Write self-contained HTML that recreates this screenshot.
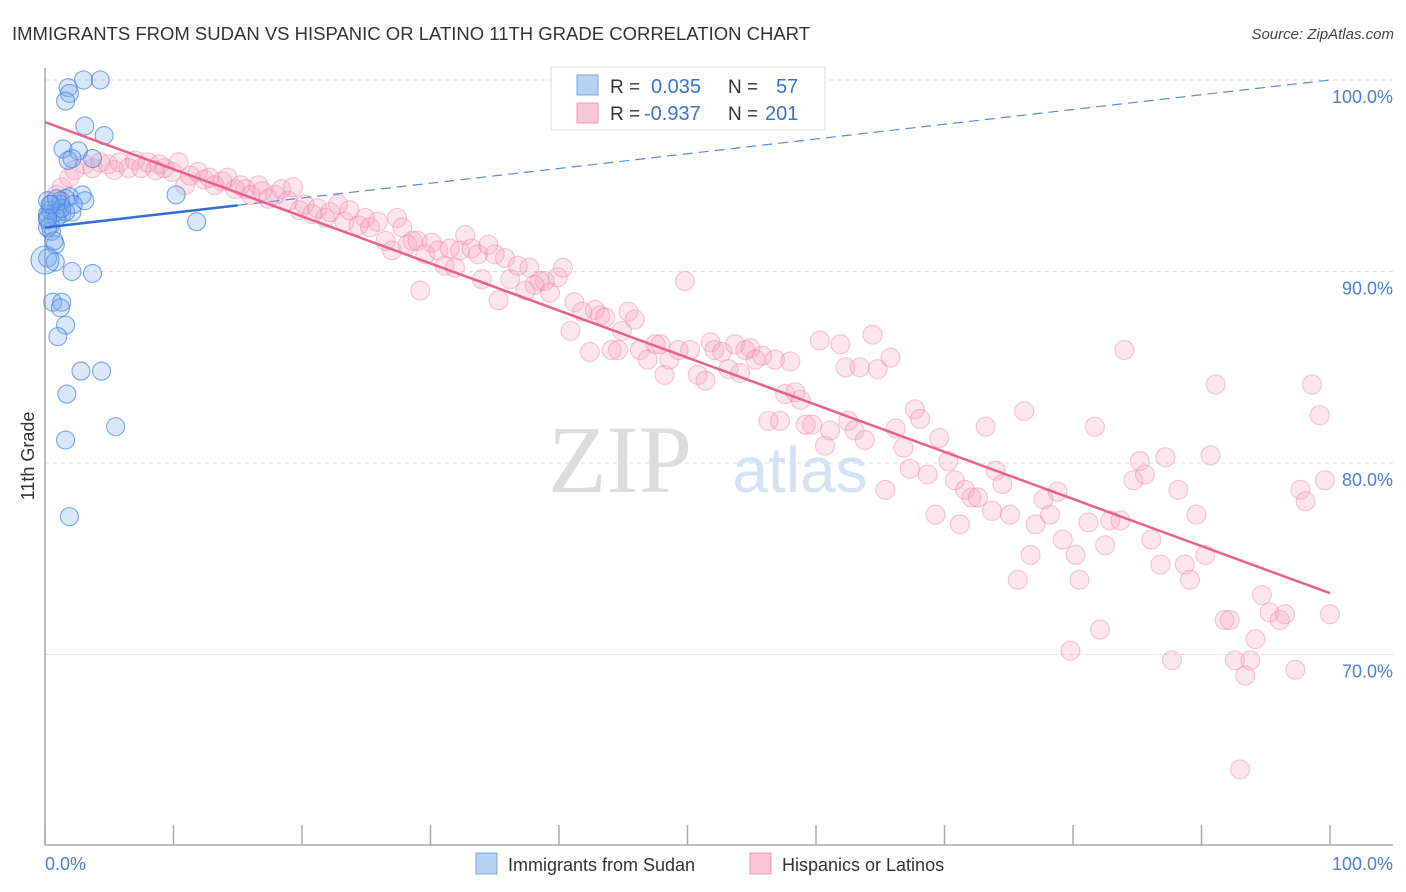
<!DOCTYPE html>
<html><head><meta charset="utf-8"><style>
body{margin:0;background:#fff;font-family:"Liberation Sans",sans-serif;}
svg{display:block}
</style></head><body>
<svg id="chart" width="1406" height="892" xmlns="http://www.w3.org/2000/svg">
<text x="12" y="40" font-size="18" fill="#333" textLength="798" lengthAdjust="spacingAndGlyphs">IMMIGRANTS FROM SUDAN VS HISPANIC OR LATINO 11TH GRADE CORRELATION CHART</text>
<text x="1394" y="39" font-size="15" fill="#444" font-style="italic" text-anchor="end">Source: ZipAtlas.com</text>
<text x="620" y="492" font-size="96" fill="#dcdcdc" font-family="Liberation Serif,serif" text-anchor="middle">ZIP</text>
<text x="800" y="492" font-size="64" fill="#d4e2f5" text-anchor="middle">atlas</text>
<g id="grid"></g>
<g id="axes"></g>
<g id="pts"></g>
<g id="lines"></g>
<text transform="translate(34,456) rotate(-90)" font-size="18" fill="#333" text-anchor="middle">11th Grade</text>
<text x="45" y="870" font-size="18" fill="#4a7fd4">0.0%</text>
<text x="1393" y="870" font-size="18" fill="#4a7fd4" text-anchor="end">100.0%</text>
<g>
<rect x="551" y="67" width="274" height="63" fill="#fff" stroke="#ddd"/>
<rect x="577" y="75" width="21" height="20" fill="#b8d1f3" stroke="#7aa6e6"/>
<rect x="577" y="103" width="21" height="20" fill="#f8c6d5" stroke="#ee9ab4"/>
<text x="610" y="93" font-size="19" fill="#333">R = </text><text x="651" y="93" font-size="20" fill="#3a72d0">0.035</text>
<text x="728" y="93" font-size="19" fill="#333">N = </text><text x="776" y="93" font-size="20" fill="#3a72d0">57</text>
<text x="610" y="120" font-size="19" fill="#333">R = </text><text x="644" y="120" font-size="20" fill="#3a72d0">-0.937</text>
<text x="728" y="120" font-size="19" fill="#333">N = </text><text x="765" y="120" font-size="20" fill="#3a72d0">201</text>
</g>
<g>
<rect x="476" y="853" width="21" height="21" fill="#b8d1f3" stroke="#7aa6e6"/>
<text x="508" y="871" font-size="18" fill="#333">Immigrants from Sudan</text>
<rect x="750" y="853" width="21" height="21" fill="#f8c6d5" stroke="#ee9ab4"/>
<text x="782" y="871" font-size="18" fill="#333">Hispanics or Latinos</text>
</g>
</svg>
<script>
const yTicks=[100,90,80,70];
const yTickLabels=["100.0%","90.0%","80.0%","70.0%"];
const xTicks=[0,10,20,30,40,50,60,70,80,90,100];
const blueX=[1.8,3.0,4.3,1.9,1.6,3.1,4.6,1.4,2.6,1.8,2.1,3.7,2.9,1.9,3.1,1.6,1.2,0.4,0.8,0.2,1.0,1.3,2.1,0.4,0.5,0.8,0.2,0.8,2.1,3.7,0.6,1.3,1.2,1.6,1.0,2.8,4.4,1.7,1.6,5.5,1.9,10.2,11.8,0,0.2,0.5,1.2,0.2,1.6,0.9,0.2,0.7,1.3,0.9,2.2,0.4,0.2];
const blueY=[99.6,100,100,99.3,98.9,97.6,97.1,96.4,96.3,95.8,95.9,95.9,94.0,93.9,93.7,93.8,93.5,93.2,93.1,93.0,93.1,93.0,93.1,92.4,92.1,91.4,90.7,90.5,90.0,89.9,88.4,88.4,88.1,87.2,86.6,84.8,84.8,83.6,81.2,81.9,77.2,94.0,92.6,90.6,92.7,93.5,93.7,93.7,93.1,92.8,92.3,91.6,93.3,93.8,93.5,93.5,92.8];
const pinkX=[0.9,1.3,1.9,2.3,3.1,3.7,4.3,4.9,5.4,5.8,6.5,7.0,7.5,8.0,8.6,8.9,9.3,9.9,10.4,10.9,11.3,11.9,12.4,12.8,13.2,13.8,14.2,14.8,15.2,15.6,16.0,16.6,16.9,17.4,17.9,18.4,18.9,19.3,19.8,20.2,20.8,21.2,21.8,22.2,22.8,23.3,23.7,24.4,24.9,25.3,25.9,26.5,27.0,27.4,27.8,28.2,28.6,29.0,29.2,29.6,30.1,30.6,31.1,31.5,31.9,32.3,32.7,33.2,33.7,34.0,34.5,35.0,35.3,35.8,36.2,36.8,37.4,37.7,38.1,38.5,38.9,39.3,39.9,40.3,40.9,41.2,41.8,42.4,42.8,43.2,43.6,44.1,44.6,44.9,45.4,45.9,46.3,46.9,47.5,47.9,48.2,48.6,49.3,49.8,50.2,50.8,51.4,51.8,52.1,52.7,53.2,53.7,54.1,54.5,54.9,55.3,55.8,56.3,56.8,57.2,57.6,58.0,58.4,58.8,59.2,59.7,60.3,60.7,61.1,61.9,62.3,62.5,63.0,63.4,63.8,64.4,64.8,65.4,65.8,66.2,66.8,67.3,67.7,68.1,68.7,69.3,69.6,70.3,70.8,71.2,71.6,72.1,72.6,73.2,73.7,74.0,74.5,75.1,75.7,76.2,76.7,77.1,77.7,78.2,78.8,79.2,79.8,80.2,80.5,81.2,81.7,82.1,82.5,82.9,83.7,84.0,84.7,85.2,85.6,86.1,86.8,87.2,87.7,88.2,88.7,89.1,89.6,90.3,90.7,91.1,91.8,92.2,92.6,93.0,93.4,93.8,94.2,94.7,95.3,96.1,96.5,97.3,97.7,98.1,98.6,99.2,99.6,100];
const pinkY=[94.0,94.4,94.9,95.3,95.6,95.4,95.7,95.6,95.3,95.7,95.4,95.8,95.4,95.7,95.3,95.6,95.4,95.2,95.7,94.5,95.0,95.2,94.8,94.9,94.5,94.7,94.9,94.3,94.5,94.3,94.0,94.5,94.2,93.8,94.0,94.3,93.7,94.4,93.2,93.5,93.0,93.3,92.8,93.1,93.5,92.6,93.2,92.4,92.8,92.3,92.6,91.6,91.1,92.8,92.3,91.4,91.6,91.6,89.0,90.9,91.5,91.1,90.3,91.2,90.2,91.1,91.9,91.2,90.9,89.6,91.4,90.9,88.5,90.7,89.6,90.3,89.0,90.2,89.3,89.5,89.5,88.9,89.7,90.2,86.9,88.4,87.9,85.8,88.0,87.7,87.6,85.9,85.9,86.9,87.9,87.5,85.9,85.4,86.2,86.2,84.6,85.4,85.9,89.5,85.9,84.6,84.3,86.3,85.9,85.8,84.9,86.2,84.7,85.9,86.0,85.4,85.6,82.2,85.4,82.2,83.6,85.3,83.7,83.3,82.0,82.0,86.4,80.9,81.7,86.2,85.0,82.2,81.7,85.0,81.2,86.7,84.9,78.6,85.5,81.8,80.8,79.7,82.8,82.3,79.4,77.3,81.3,80.1,79.1,76.8,78.6,78.2,78.2,81.9,77.5,79.6,78.9,77.3,73.9,82.7,75.2,76.8,78.1,77.3,78.5,76.0,70.2,75.2,73.9,76.9,81.9,71.3,75.7,77.0,77.0,85.9,79.1,80.1,79.4,76.0,74.7,80.3,69.7,78.6,74.7,73.9,77.3,75.2,80.4,84.1,71.8,71.8,69.7,64.0,68.9,69.7,70.8,73.1,72.2,71.8,72.1,69.2,78.6,78.0,84.1,82.5,79.1,72.1];
const trendPink=[97.8,73.2];
const trendBlue=[92.3,100.0];
const blueSolidEnd=15;

const NS="http://www.w3.org/2000/svg";
const X0=45,X1=1330,Y100=80,PXPER=19.15;
const xs=v=>X0+(X1-X0)*v/100;
const ys=v=>Y100+(100-v)*PXPER;
function mk(tag,attrs,parent){const e=document.createElementNS(NS,tag);for(const k in attrs)e.setAttribute(k,attrs[k]);parent.appendChild(e);return e;}
const grid=document.getElementById('grid'),axes=document.getElementById('axes'),pts=document.getElementById('pts'),lines=document.getElementById('lines');
yTicks.forEach((t,i)=>{
  const l=mk('line',{x1:X0,x2:1393,y1:ys(t),y2:ys(t),stroke:'#ddd','stroke-dasharray':'4,4'},grid);
  
  
  const tx=mk('text',{x:1393,y:ys(t)+23,'font-size':18,fill:'#4a7fd4','text-anchor':'end'},grid);
  tx.textContent=yTickLabels[i];
  
  
});
const ya=mk('line',{x1:X0,x2:X0,y1:68,y2:845,stroke:'#aaa','stroke-width':1.5},axes);


const xa=mk('line',{x1:X0,x2:1393,y1:845,y2:845,stroke:'#aaa','stroke-width':1.5},axes);


xTicks.forEach(t=>{
  const tk=mk('line',{x1:xs(t),x2:xs(t),y1:825,y2:845,stroke:'#aaa','stroke-width':1.5},axes);
  
  
});
pinkX.forEach((x,i)=>{
  const c=mk('circle',{cx:xs(x),cy:ys(pinkY[i]),r:9.5,fill:'rgba(246,160,190,0.28)',stroke:'rgba(236,130,168,0.45)','stroke-width':1.1},pts);
  
  
});
blueX.forEach((x,i)=>{
  const c=mk('circle',{cx:xs(x),cy:ys(blueY[i]),r:(x===0?14:9),fill:'rgba(120,168,238,0.28)',stroke:'rgba(70,130,220,0.7)','stroke-width':1.1},pts);
  
  
});
const bY=v=>trendBlue[0]+(trendBlue[1]-trendBlue[0])*v/100;
const bd=mk('line',{x1:xs(blueSolidEnd),y1:ys(bY(blueSolidEnd)),x2:xs(100),y2:ys(bY(100)),stroke:'#5a8ad8','stroke-width':1.2,'stroke-dasharray':'10,6'},lines);


const bs=mk('line',{x1:xs(0),y1:ys(bY(0)),x2:xs(blueSolidEnd),y2:ys(bY(blueSolidEnd)),stroke:'#2f6fd6','stroke-width':2.5},lines);


const pl=mk('line',{x1:xs(0),y1:ys(trendPink[0]),x2:xs(100),y2:ys(trendPink[1]),stroke:'#e8608e','stroke-width':2.5},lines);


</script>
</body></html>
